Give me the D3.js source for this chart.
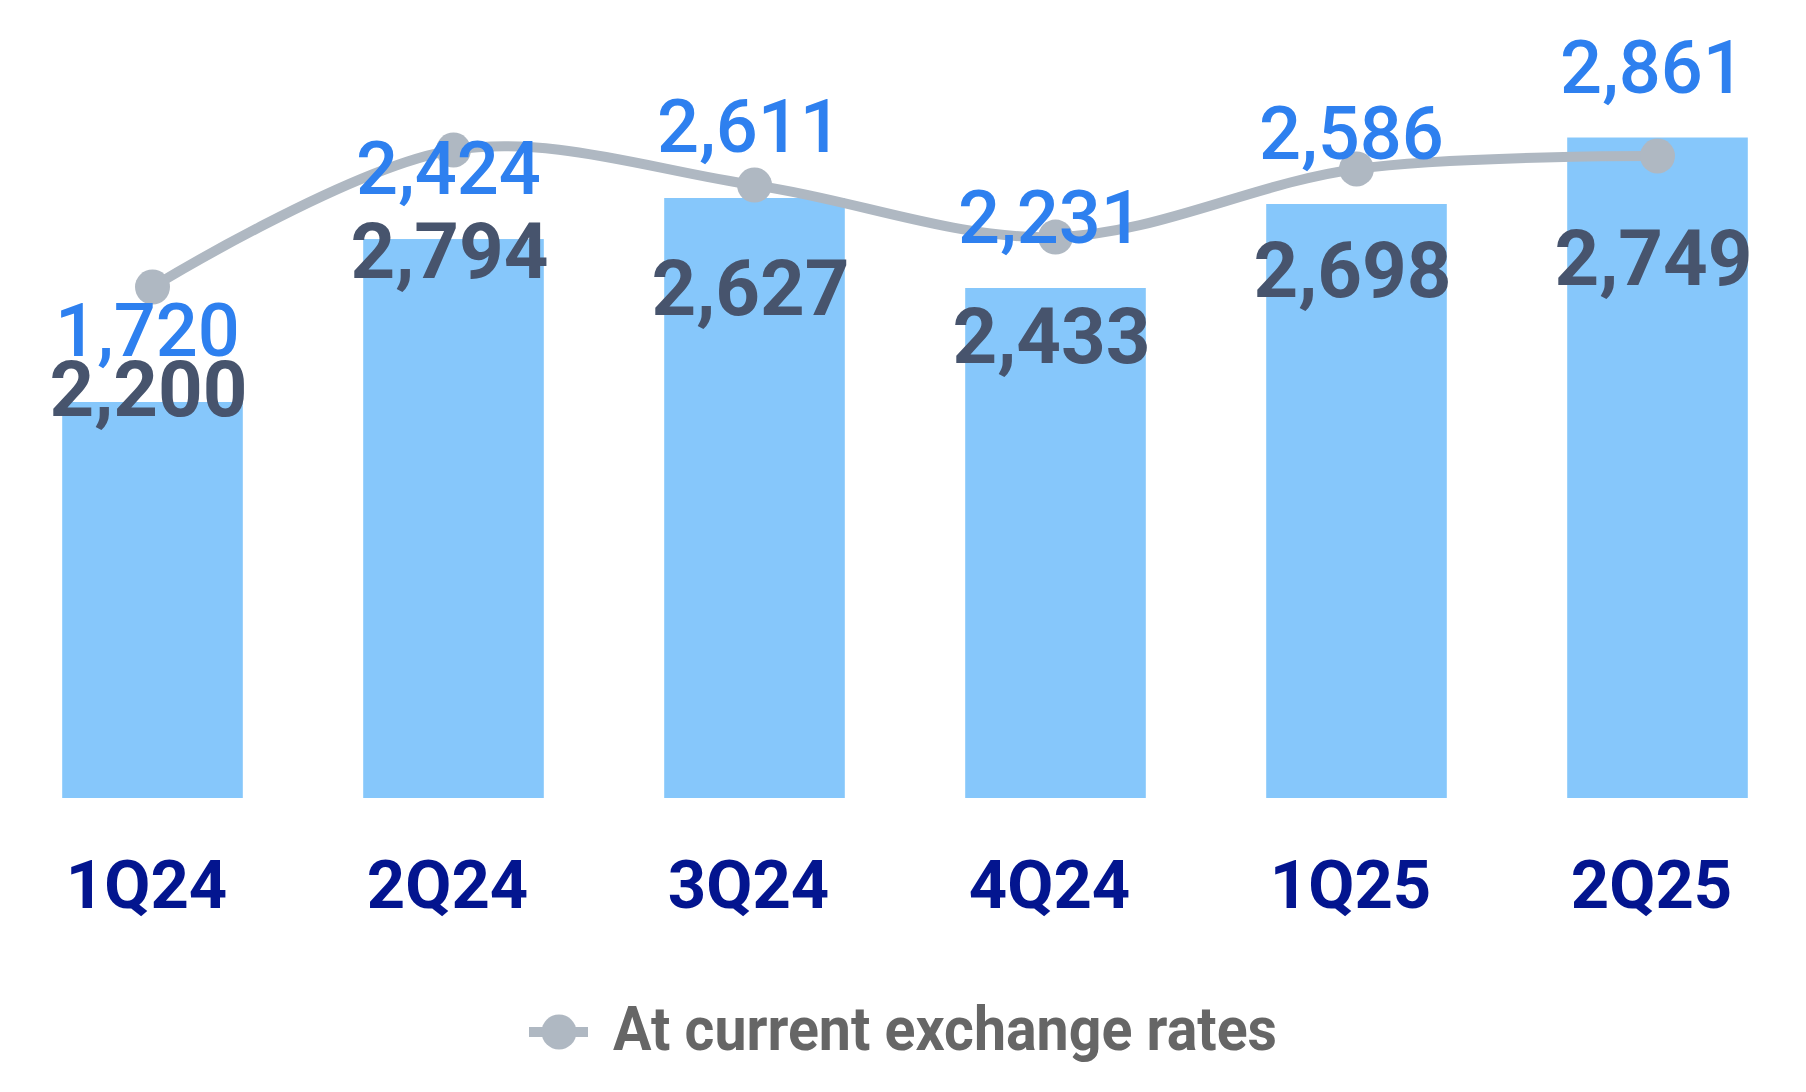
<!DOCTYPE html>
<html>
<head>
<meta charset="utf-8">
<script src="https://cdnjs.cloudflare.com/ajax/libs/d3/7.8.5/d3.min.js"></script>
<style>
    body { margin: 0; background: #ffffff; }
</style>
</head>
<body>
<script>
var categories = ["1Q24", "2Q24", "3Q24", "4Q24", "1Q25", "2Q25"];

// printed labels
var barLabels = [2200, 2794, 2627, 2433, 2698, 2749];
var lineLabels = [1720, 2424, 2611, 2231, 2586, 2861];

// levels as drawn in the picture (the chart is not to scale)
var barValues = [1650, 2329, 2500, 2125, 2475, 2752];
var lineValues = [2129, 2700, 2554, 2337, 2621, 2675];

var legendText = "At current exchange rates";

var width = 1806;
var height = 1092;
var baseline = 798;

// label nudges, px from the mark
var barLabelDy = [14, 39, 117, 75, 93, 147];
var lineLabelDy = [69, 44, -33, 6, -10, -63];

var fmt = d3.format(",");

var svg = d3.select("body")
    .append("svg")
    .attr("width", width)
    .attr("height", height);

var x = d3.scaleBand()
    .domain(categories)
    .range([2, 1808])
    .paddingInner(0.4)
    .paddingOuter(0.2);

var y = d3.scaleLinear()
    .domain([0, 3000])
    .range([baseline, 78]);

function cx(d) {
    return x(d) + x.bandwidth() / 2;
}

// bars
svg.append("g")
    .selectAll("rect")
    .data(categories)
    .enter()
    .append("rect")
    .attr("x", function(d) { return x(d); })
    .attr("y", function(d, i) { return y(barValues[i]); })
    .attr("width", x.bandwidth())
    .attr("height", function(d, i) { return baseline - y(barValues[i]); })
    .style("fill", "#86C7FB");

// line
var line = d3.line()
    .x(function(d) { return cx(d); })
    .y(function(d, i) { return y(lineValues[i]); })
    .curve(d3.curveCatmullRom.alpha(0.5));

svg.append("path")
    .datum(categories)
    .attr("d", line)
    .attr("fill", "none")
    .attr("stroke", "#AFB8C2")
    .attr("stroke-width", 10);

svg.append("g")
    .selectAll("circle")
    .data(categories)
    .enter()
    .append("circle")
    .attr("cx", function(d) { return cx(d); })
    .attr("cy", function(d, i) { return y(lineValues[i]); })
    .attr("r", 17.5)
    .style("fill", "#AFB8C2");

// bar labels
svg.append("g")
    .selectAll("text")
    .data(categories)
    .enter()
    .append("text")
    .attr("x", function(d) { return cx(d) - 4; })
    .attr("y", function(d, i) { return y(barValues[i]) + barLabelDy[i]; })
    .attr("text-anchor", "middle")
    .style("font-family", "Roboto, 'Open Sans', sans-serif")
    .style("font-weight", "700")
    .style("font-size", "78px")
    .style("fill", "#47546D")
    .text(function(d, i) { return fmt(barLabels[i]); });

// line labels
svg.append("g")
    .selectAll("text")
    .data(categories)
    .enter()
    .append("text")
    .attr("x", function(d) { return cx(d) - 5; })
    .attr("y", function(d, i) { return y(lineValues[i]) + lineLabelDy[i]; })
    .attr("text-anchor", "middle")
    .style("font-family", "Roboto, 'Open Sans', sans-serif")
    .style("font-weight", "500")
    .style("font-size", "74px")
    .style("fill", "#2E80EF")
    .text(function(d, i) { return fmt(lineLabels[i]); });

// category axis
var xAxis = d3.axisBottom(x).tickSize(0).tickPadding(0);

var axisG = svg.append("g")
    .attr("transform", "translate(0,908)")
    .call(xAxis);

axisG.select(".domain").remove();
axisG.selectAll("text")
    .attr("y", 0)
    .attr("dy", 0)
    .attr("dx", -6)
    .style("font-family", "Roboto, 'Open Sans', sans-serif")
    .style("font-weight", "700")
    .style("font-size", "67px")
    .style("fill", "#03158F");

// legend
var legend = svg.append("g");

legend.append("line")
    .attr("x1", 529)
    .attr("x2", 588)
    .attr("y1", 1032)
    .attr("y2", 1032)
    .attr("stroke", "#AFB8C2")
    .attr("stroke-width", 10);

legend.append("circle")
    .attr("cx", 559)
    .attr("cy", 1032)
    .attr("r", 17.5)
    .style("fill", "#AFB8C2");

legend.append("text")
    .attr("x", 613)
    .attr("y", 1050)
    .attr("textLength", 664)
    .attr("lengthAdjust", "spacingAndGlyphs")
    .style("font-family", "Roboto, 'Open Sans', sans-serif")
    .style("font-weight", "700")
    .style("font-size", "62px")
    .style("fill", "#666666")
    .text(legendText);
</script>
</body>
</html>
